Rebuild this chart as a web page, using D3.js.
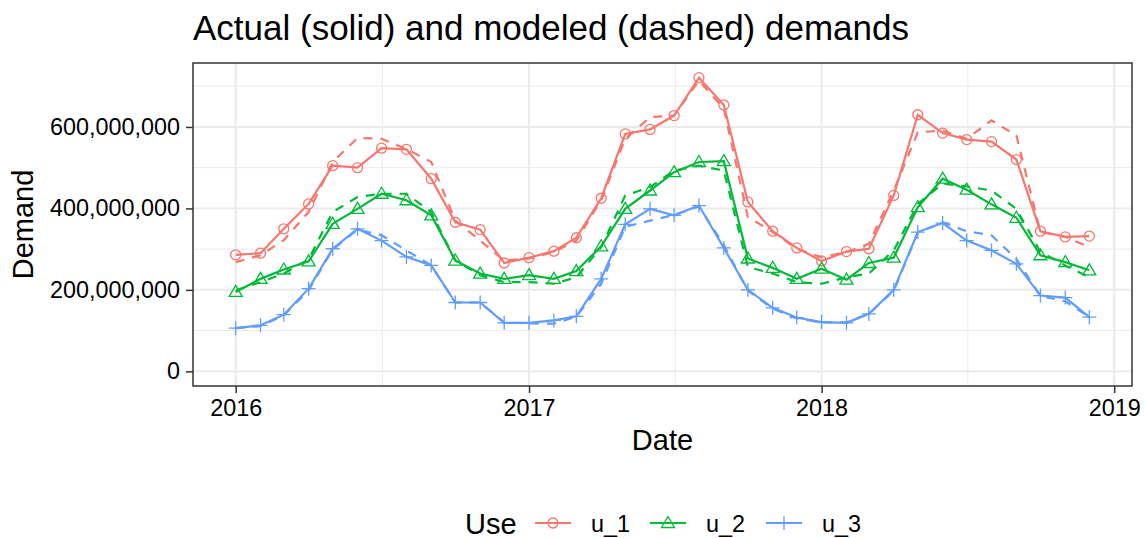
<!DOCTYPE html>
<meta charset="utf-8" />
<style>
  body {
    margin: 0;
    background: #fff;
    font-family: "Liberation Sans", Arial, sans-serif;
  }
  text {
    font-family: "Liberation Sans", Arial, sans-serif;
  }
</style>
<div id="container"></div>

<script src="https://d3js.org/d3.v7.min.js"></script>
<script>
  // DATA (monthly, Jan 2016 - Dec 2018), values in units of demand
  const months = [
    "2016-01", "2016-02", "2016-03", "2016-04", "2016-05", "2016-06",
    "2016-07", "2016-08", "2016-09", "2016-10", "2016-11", "2016-12",
    "2017-01", "2017-02", "2017-03", "2017-04", "2017-05", "2017-06",
    "2017-07", "2017-08", "2017-09", "2017-10", "2017-11", "2017-12",
    "2018-01", "2018-02", "2018-03", "2018-04", "2018-05", "2018-06",
    "2018-07", "2018-08", "2018-09", "2018-10", "2018-11", "2018-12",
  ];
  // millions
  const u1Actual = [286, 290, 350, 411, 505, 500, 548, 545, 473, 366, 348, 266,
    279, 295, 328, 425, 583, 594, 628, 721, 654, 416, 344, 303,
    271, 294, 301, 432, 630, 585, 569, 564, 520, 344, 330, 332];
  const u1Model = [268, 285, 322, 391, 514, 573, 571, 546, 514, 370, 321, 272,
    277, 293, 321, 420, 571, 624, 628, 714, 645, 379, 342, 301,
    280, 293, 313, 444, 587, 591, 571, 616, 579, 342, 330, 305];
  const u2Actual = [195, 227, 250, 270, 362, 399, 436, 420, 383, 272, 240, 227,
    236, 227, 246, 307, 399, 444, 489, 514, 516, 277, 254, 227,
    252, 225, 266, 279, 403, 473, 446, 410, 377, 285, 268, 248];
  const u2Model = [199, 219, 240, 275, 391, 428, 436, 436, 391, 272, 236, 219,
    219, 215, 231, 305, 432, 452, 493, 505, 493, 256, 240, 219,
    215, 231, 240, 297, 411, 461, 454, 444, 399, 293, 260, 231];
  const u3Actual = [106, 113, 139, 203, 301, 350, 321, 281, 260, 169, 169, 119,
    119, 125, 135, 227, 361, 399, 383, 407, 303, 200, 156, 132,
    121, 119, 141, 200, 342, 364, 321, 297, 264, 186, 181, 133];
  const u3Model = [106, 111, 137, 199, 299, 348, 334, 297, 260, 169, 169, 120,
    118, 117, 134, 215, 355, 370, 384, 405, 310, 198, 154, 130,
    120, 120, 141, 198, 340, 366, 344, 334, 276, 185, 172, 133];

  const useNames = ["u_1", "u_2", "u_3"];
  const useColors = ["#F8766D", "#00BA38", "#619CFF"];
  const yTicks = [0, 200e6, 400e6, 600e6];
  const yMinor = [100e6, 300e6, 500e6, 700e6];
  const xTickYears = [2016, 2017, 2018, 2019];

  const parseMonth = d3.timeParse("%Y-%m");
  const dates = months.map(parseMonth);
  const series = [
    { name: useNames[0], color: useColors[0], actual: u1Actual, model: u1Model },
    { name: useNames[1], color: useColors[1], actual: u2Actual, model: u2Model },
    { name: useNames[2], color: useColors[2], actual: u3Actual, model: u3Model },
  ];

  // LAYOUT
  const W = 1145, H = 538;
  const panel = { left: 193, top: 63, right: 1132, bottom: 386 };

  const svg = d3
    .select("#container")
    .append("svg")
    .attr("width", W)
    .attr("height", H);

  // SCALES (ggplot-style 5% expansion)
  const [d0, d1] = d3.extent(dates);
  const span = d1 - d0;
  const xScale = d3
    .scaleTime()
    .domain([new Date(+d0 - span * 0.05), new Date(+d1 + span * 0.05)])
    .range([panel.left, panel.right]);

  const yMax = d3.max(series, (s) => d3.max(s.actual.concat(s.model))) * 1e6;
  const yScale = d3
    .scaleLinear()
    .domain([0 - yMax * 0.05, yMax * 1.05])
    .range([panel.bottom, panel.top]);

  const xMajor = xTickYears.map((y) => new Date(y, 0, 1));
  const xMinorDates = d3.pairs(xMajor).map(([a, b]) => new Date((+a + +b) / 2));

  // GRID
  const grid = svg.append("g");
  grid.selectAll(".ymin").data(yMinor).enter().append("line")
    .attr("x1", panel.left).attr("x2", panel.right)
    .attr("y1", (d) => yScale(d)).attr("y2", (d) => yScale(d))
    .attr("stroke", "#EBEBEB").attr("stroke-width", 1);
  grid.selectAll(".xmin").data(xMinorDates).enter().append("line")
    .attr("y1", panel.top).attr("y2", panel.bottom)
    .attr("x1", (d) => xScale(d)).attr("x2", (d) => xScale(d))
    .attr("stroke", "#EBEBEB").attr("stroke-width", 1);
  grid.selectAll(".ymaj").data(yTicks).enter().append("line")
    .attr("x1", panel.left).attr("x2", panel.right)
    .attr("y1", (d) => yScale(d)).attr("y2", (d) => yScale(d))
    .attr("stroke", "#EBEBEB").attr("stroke-width", 2);
  grid.selectAll(".xmaj").data(xMajor).enter().append("line")
    .attr("y1", panel.top).attr("y2", panel.bottom)
    .attr("x1", (d) => xScale(d)).attr("x2", (d) => xScale(d))
    .attr("stroke", "#EBEBEB").attr("stroke-width", 2);

  // LINES
  const line = (vals) =>
    d3.line()
      .x((d, i) => xScale(dates[i]))
      .y((d) => yScale(d * 1e6))(vals);

  series.forEach((s) => {
    svg.append("path")
      .attr("fill", "none")
      .attr("stroke", s.color)
      .attr("stroke-width", 2.2)
      .attr("stroke-dasharray", "9,8")
      .attr("d", line(s.model));
    svg.append("path")
      .attr("fill", "none")
      .attr("stroke", s.color)
      .attr("stroke-width", 2.2)
      .attr("d", line(s.actual));
  });

  // POINTS
  const shapes = [
    d3.symbol().type(d3.symbolCircle).size(80),
    d3.symbol().type(d3.symbolTriangle).size(90),
    d3.symbol().type(d3.symbolCross).size(0),
  ];
  function drawShape(g, k, color) {
    if (k === 0) {
      g.append("circle").attr("r", 5).attr("fill", "none")
        .attr("stroke", color).attr("stroke-width", 1.3);
    } else if (k === 1) {
      g.append("path").attr("d", "M0,-6.5L6.5,4.5L-6.5,4.5Z").attr("fill", "none")
        .attr("stroke", color).attr("stroke-width", 1.3);
    } else {
      g.append("path").attr("d", "M-7,0H7M0,-7V7").attr("fill", "none")
        .attr("stroke", color).attr("stroke-width", 1.3);
    }
  }
  series.forEach((s, k) => {
    s.actual.forEach((v, i) => {
      const g = svg.append("g")
        .attr("transform", `translate(${xScale(dates[i])},${yScale(v * 1e6)})`);
      drawShape(g, k, s.color);
    });
  });

  // PANEL BORDER
  svg.append("rect")
    .attr("x", panel.left).attr("y", panel.top)
    .attr("width", panel.right - panel.left)
    .attr("height", panel.bottom - panel.top)
    .attr("fill", "none").attr("stroke", "#333333").attr("stroke-width", 1.5);

  // AXES
  const yAxis = svg.append("g")
    .attr("transform", `translate(${panel.left},0)`)
    .call(d3.axisLeft(yScale).tickValues(yTicks).tickFormat(d3.format(",")).tickSize(7).tickPadding(6));
  const xAxis = svg.append("g")
    .attr("transform", `translate(0,${panel.bottom})`)
    .call(d3.axisBottom(xScale).tickValues(xMajor).tickFormat(d3.timeFormat("%Y")).tickSize(7).tickPadding(6));
  [xAxis, yAxis].forEach((a) => {
    a.select(".domain").remove();
    a.selectAll(".tick line").attr("stroke", "#333333").attr("stroke-width", 1.5);
    a.selectAll(".tick text")
      .attr("fill", "#000")
      .style("font-size", "23.4px")
      .style("font-family", "Liberation Sans, Arial, sans-serif");
  });

  // TITLES
  svg.append("text")
    .attr("x", panel.left)
    .attr("y", 40)
    .style("font-size", "35px")
    .text("Actual (solid) and modeled (dashed) demands");

  svg.append("text")
    .attr("x", (panel.left + panel.right) / 2)
    .attr("y", 450)
    .attr("text-anchor", "middle")
    .style("font-size", "29px")
    .text("Date");

  svg.append("text")
    .attr("transform", `translate(33,${(panel.top + panel.bottom) / 2}) rotate(-90)`)
    .attr("text-anchor", "middle")
    .style("font-size", "29px")
    .text("Demand");

  // LEGEND
  const legY = 523;
  svg.append("text")
    .attr("x", 465).attr("y", legY + 10.5)
    .style("font-size", "29px")
    .text("Use");

  const keyX = [535, 650, 766];
  series.forEach((s, k) => {
    const g = svg.append("g");
    g.append("line")
      .attr("x1", keyX[k]).attr("x2", keyX[k] + 36)
      .attr("y1", legY).attr("y2", legY)
      .attr("stroke", s.color).attr("stroke-width", 2.2);
    const sg = g.append("g").attr("transform", `translate(${keyX[k] + 18},${legY})`);
    drawShape(sg, k, s.color);
    g.append("text")
      .attr("x", keyX[k] + 56).attr("y", legY + 8.5)
      .style("font-size", "23.4px")
      .text(s.name);
  });
</script>
